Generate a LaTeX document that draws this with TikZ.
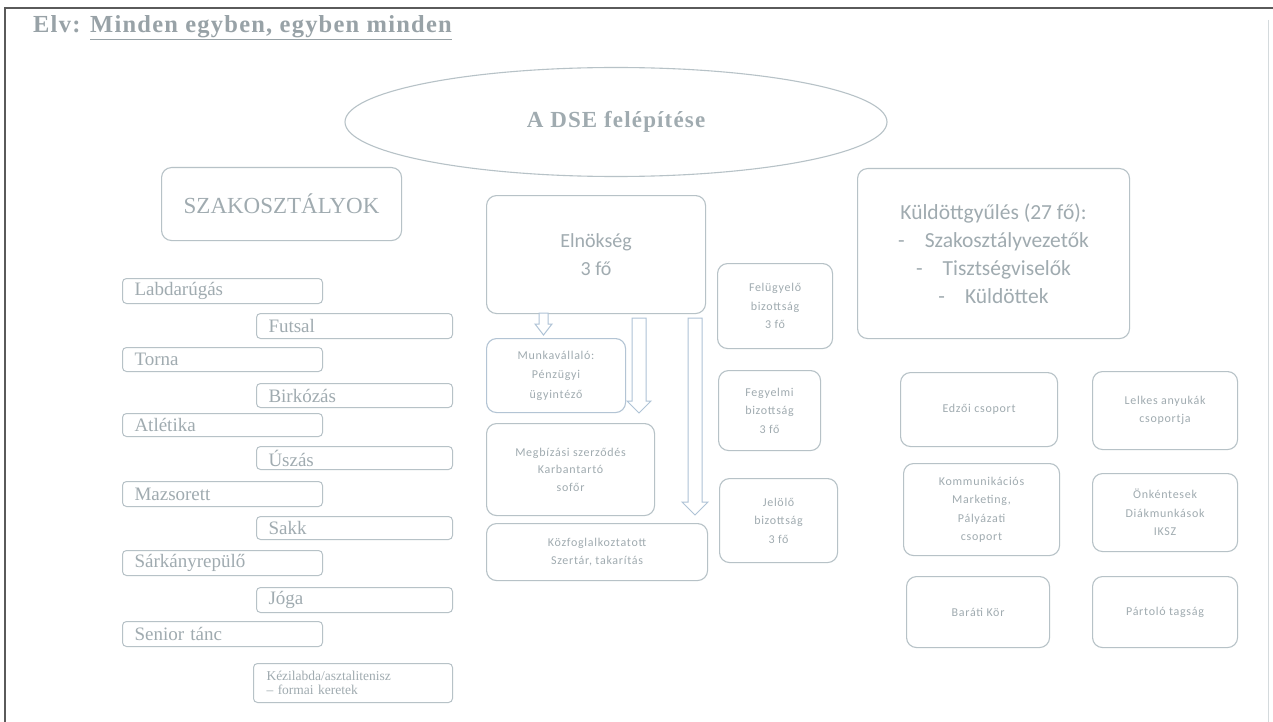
\documentclass[tikz,border=0pt]{standalone}
\usepackage{fontspec}
\setmainfont{Liberation Serif}
\newfontfamily\titlefont[LetterSpace=5]{Liberation Serif}
\newfontfamily\calib{Carlito}
\newfontfamily\calibs[LetterSpace=6]{Carlito}
\usetikzlibrary{shapes.geometric}
\definecolor{lc}{HTML}{B7C2C7}
\definecolor{tc}{HTML}{A0ABB0}
\definecolor{ac}{HTML}{AFC3D6}
\definecolor{bc}{HTML}{B3C4D4}
\definecolor{fc}{HTML}{5A5A5A}
\begin{document}
\begin{tikzpicture}[x=1pt,y=-1pt,
  every node/.style={text=tc},
  rbox/.style={draw=lc, line width=1.1pt, rounded corners=10pt, anchor=north west, inner sep=0pt, align=center},
  cbox/.style={rbox, font=\calibs\fontsize{12}{18.5}\selectfont},
  lbox/.style={draw=lc, line width=1pt, rounded corners=4pt, anchor=north west, inner xsep=12pt, inner ysep=0pt, align=left, minimum height=24pt, font=\fontsize{19}{19}\selectfont},
  colA/.style={lbox, text width=176pt},
  colB/.style={lbox, text width=172pt},
  barrow/.style={draw=ac, line width=1pt, fill=white}
]
\useasboundingbox (0,0) rectangle (1273,722);
\fill[white] (0,0) rectangle (1273,722);
% frame
\draw[fc, line width=1.6pt] (5,722) -- (5,8) -- (1273,8);
\draw[lc!60, line width=0.8pt] (1268,20) -- (1268,722);

% title
\node[anchor=west, inner sep=0pt, font=\titlefont\bfseries\fontsize{24.5}{28}\selectfont, text=tc!95!black] (elv) at (33,28) {Elv: \underline{Minden egyben, egyben minden}};

% ellipse
\node[ellipse, draw=lc, line width=1.1pt, minimum width=542pt, minimum height=109pt, inner sep=0pt, font=\titlefont\bfseries\fontsize{23}{28}\selectfont] (dse) at (616,122) {A DSE felépítése};

% main boxes
\node[rbox, minimum width=240pt, minimum height=73pt, font=\fontsize{23}{26}\selectfont] (szak) at (161,167) {SZAKOSZTÁLYOK};
\node[rbox, minimum width=219pt, minimum height=118pt, font=\calib\fontsize{20}{28}\selectfont] (eln) at (486,195) {Elnökség\\3 fő};
\node[rbox, minimum width=272pt, minimum height=170pt, font=\calib\fontsize{21.5}{28}\selectfont] (kuld) at (857,168) {Küldöttgyűlés (27 fő):\\[0pt]
-\hspace{20pt}Szakosztályvezetők\\
-\hspace{20pt}Tisztségviselők\\
-\hspace{20pt}Küldöttek};

% left list
\node[colA, minimum height=25pt] (labda) at (122,278) {Labdarúgás};
\node[colB, minimum height=25pt] (futsal) at (256,313) {Futsal};
\node[colA] (torna) at (122,347) {Torna};
\node[colB] (birk) at (256,383) {Birkózás};
\node[colA, minimum height=23pt] (atl) at (122,413) {Atlétika};
\node[colB, minimum height=23pt] (usz) at (256,446) {Úszás};
\node[colA, minimum height=25pt] (mazs) at (122,481) {Mazsorett};
\node[colB, minimum height=23pt] (sakk) at (256,516) {Sakk};
\node[colA, minimum height=25pt] (sark) at (122,550) {Sárkányrepülő};
\node[colB, minimum height=25pt] (joga) at (256,587) {Jóga};
\node[colA, minimum height=25pt] (senior) at (122,621) {Senior tánc};
\node[lbox, text width=173pt, minimum height=39pt, inner xsep=13pt, font=\fontsize{13.5}{14.5}\selectfont] (kezi) at (253,663) {Kézilabda/asztalitenisz\\– formai keretek};

% centre column
\node[cbox, draw=bc, minimum width=139pt, minimum height=74pt, font=\calibs\fontsize{12}{19.5}\selectfont] (munka) at (486,338) {Munkavállaló:\\Pénzügyi\\ügyintéző};
\node[cbox, minimum width=168pt, minimum height=92pt, font=\calibs\fontsize{12}{17.5}\selectfont] (megb) at (486,423) {Megbízási szerződés\\Karbantartó\\sofőr};
\node[cbox, minimum width=221pt, minimum height=57pt] (kozf) at (486,523) {Közfoglalkoztatott\\Szertár, takarítás};

% committees
\node[cbox, minimum width=115pt, minimum height=85pt] (felu) at (717,263) {Felügyelő\\bizottság\\3 fő};
\node[cbox, minimum width=102pt, minimum height=80pt] (fegy) at (718,370) {Fegyelmi\\bizottság\\3 fő};
\node[cbox, minimum width=118pt, minimum height=84pt] (jelo) at (719,478) {Jelölő\\bizottság\\3 fő};

% right group
\node[cbox, minimum width=157pt, minimum height=74pt] (edzo) at (900,372) {Edzői csoport};
\node[cbox, minimum width=145pt, minimum height=78pt] (lelk) at (1092,371) {Lelkes anyukák\\csoportja};
\node[cbox, minimum width=156pt, minimum height=92pt] (komm) at (903,463) {Kommunikációs\\Marketing,\\Pályázati\\csoport};
\node[cbox, minimum width=145pt, minimum height=78pt] (onk) at (1092,473) {Önkéntesek\\Diákmunkások\\IKSZ};
\node[cbox, minimum width=143pt, minimum height=71pt] (barat) at (906,576) {Baráti Kör};
\node[cbox, minimum width=145pt, minimum height=71pt] (part) at (1092,576) {Pártoló tagság};

% block arrows
\draw[barrow] (539,313) -- (539,324) -- (535,324) -- (543.5,335) -- (552,324) -- (548,324) -- (548,313) -- cycle;
\draw[barrow] (632,318) -- (632,401) -- (627,401) -- (639,413) -- (651,401) -- (646,401) -- (646,318) -- cycle;
\draw[barrow] (688,318) -- (688,502) -- (682,502) -- (695,515) -- (708,502) -- (702,502) -- (702,318) -- cycle;
\end{tikzpicture}
\end{document}
